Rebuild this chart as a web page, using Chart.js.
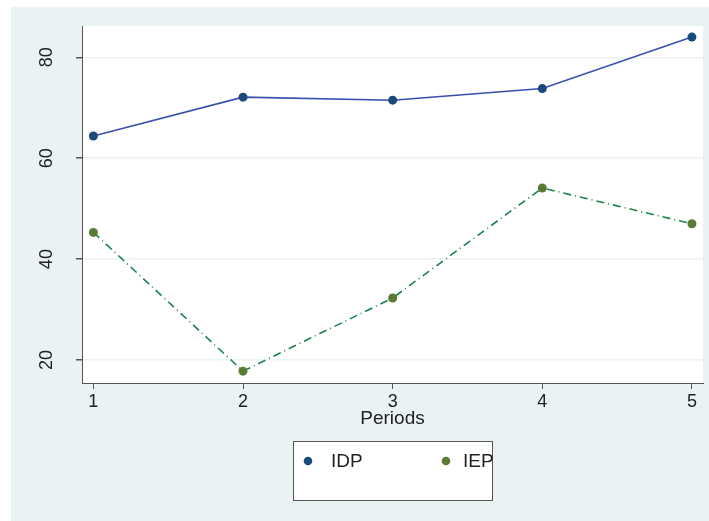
<!DOCTYPE html>
<html>
<head>
<meta charset="utf-8">
<script src="https://cdn.jsdelivr.net/npm/chart.js@4.4.1/dist/chart.umd.min.js"></script>
<style>
  html, body { margin: 0; padding: 0; background: #ffffff; }
  canvas { display: block; }
</style>
</head>
<body>
<canvas id="chart" width="709" height="521"></canvas>
<script>
// values
const periods = [1, 2, 3, 4, 5];
const idpValues = [64.4, 72.1, 71.5, 73.8, 84.0];
const iepValues = [45.3, 17.8, 32.3, 54.1, 47.0];
const yTicks = [20, 40, 60, 80];
const seriesNames = ['IDP', 'IEP'];

const FONT = '"Liberation Sans", Arial, sans-serif';
const PANEL = '#eaf2f3';

const toPoints = (vals) => vals.map((v, i) => ({ x: periods[i], y: v }));

// stata-ish background: outer panel + white plot region
const backgroundPlugin = {
    id: 'background',
    beforeDraw(chart) {
        const ctx = chart.ctx;
        const area = chart.chartArea;
        ctx.save();
        ctx.fillStyle = '#ffffff';
        ctx.fillRect(0, 0, chart.width, chart.height);
        ctx.fillStyle = PANEL;
        ctx.fillRect(11, 7, chart.width - 11, chart.height - 7);
        ctx.fillStyle = '#ffffff';
        ctx.fillRect(area.left, area.top, area.right - area.left, area.bottom - area.top);
        ctx.restore();
    }
};

// boxed legend below the axis title
const boxLegendPlugin = {
    id: 'boxLegend',
    afterDraw(chart) {
        const ctx = chart.ctx;
        const box = { x: 293.5, y: 441.5, w: 199, h: 59 };
        const entries = [
            { x: 308, tx: 331 },
            { x: 446, tx: 463 }
        ];
        ctx.save();
        ctx.fillStyle = '#ffffff';
        ctx.fillRect(box.x, box.y, box.w, box.h);
        ctx.strokeStyle = '#555555';
        ctx.lineWidth = 1;
        ctx.strokeRect(box.x, box.y, box.w, box.h);
        chart.data.datasets.forEach((ds, i) => {
            const e = entries[i];
            ctx.beginPath();
            ctx.fillStyle = ds.pointBackgroundColor;
            ctx.arc(e.x, 461, 4.3, 0, Math.PI * 2);
            ctx.fill();
            ctx.fillStyle = '#222222';
            ctx.font = '19px ' + FONT;
            ctx.textAlign = 'left';
            ctx.textBaseline = 'middle';
            ctx.fillText(ds.label, e.tx, 462);
        });
        ctx.restore();
    }
};

new Chart(document.getElementById('chart'), {
    type: 'line',
    data: {
        datasets: [
            {
                label: seriesNames[0],
                data: toPoints(idpValues),
                borderColor: '#3a50ae',
                borderWidth: 1.6,
                pointRadius: 4.5,
                pointBackgroundColor: '#1a4a7c',
                pointBorderWidth: 0,
                tension: 0
            },
            {
                label: seriesNames[1],
                data: toPoints(iepValues),
                borderColor: '#17844a',
                borderWidth: 1.6,
                borderDash: [8, 4, 1, 4],
                pointRadius: 4.5,
                pointBackgroundColor: '#5b7a34',
                pointBorderWidth: 0,
                tension: 0
            }
        ]
    },
    options: {
        responsive: false,
        animation: false,
        devicePixelRatio: 1,
        layout: { padding: { left: 0, top: 26, right: 6, bottom: 91 } },
        plugins: {
            legend: { display: false },
            tooltip: { enabled: false }
        },
        scales: {
            x: {
                type: 'linear',
                min: 0.924,
                max: 5.074,
                afterBuildTicks: (scale) => { scale.ticks = periods.map(v => ({ value: v })); },
                afterFit: (scale) => {
                    scale.height = 47;
                    scale.paddingLeft = 0;
                    scale.paddingRight = 0;
                },
                grid: {
                    drawOnChartArea: false,
                    tickColor: '#555555',
                    tickLength: 6,
                    lineWidth: 1
                },
                border: { color: '#555555', width: 1 },
                ticks: {
                    color: '#222222',
                    font: { family: FONT, size: 18 },
                    padding: 2,
                    maxRotation: 0,
                    callback: (v) => String(v)
                },
                title: {
                    display: true,
                    text: 'Periods',
                    color: '#222222',
                    font: { family: FONT, size: 19 },
                    padding: 0
                }
            },
            y: {
                type: 'linear',
                min: 15.45,
                max: 86.2,
                afterBuildTicks: (scale) => { scale.ticks = yTicks.map(v => ({ value: v })); },
                afterFit: (scale) => {
                    scale.width = 82;
                    scale.paddingTop = 0;
                    scale.paddingBottom = 0;
                },
                grid: {
                    color: PANEL,
                    lineWidth: 1.5,
                    tickColor: '#555555',
                    tickLength: 6
                },
                border: { color: '#555555', width: 1 },
                ticks: {
                    color: '#222222',
                    font: { family: FONT, size: 18 },
                    minRotation: 90,
                    maxRotation: 90,
                    crossAlign: 'center',
                    padding: 19,
                    callback: (v) => String(v)
                }
            }
        }
    },
    plugins: [backgroundPlugin, boxLegendPlugin]
});
</script>
</body>
</html>
